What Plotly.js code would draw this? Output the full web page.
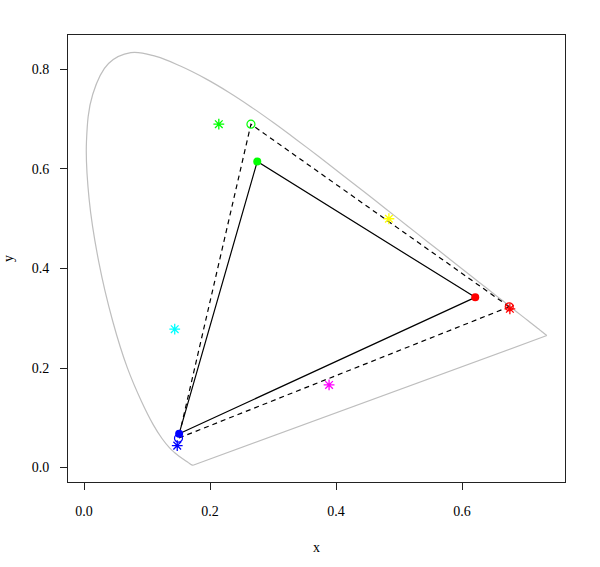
<!DOCTYPE html>
<html><head><meta charset="utf-8">
<script src="https://cdn.plot.ly/plotly-3.0.1.min.js"></script>
<style>html,body{margin:0;padding:0;background:#fff}#plot{width:600px;height:567px}</style>
</head><body><div id="plot"></div>
<script>
// CIE 1931 spectral locus (380-700 nm, 5 nm steps)
var locusX = [0.1741,0.1740,0.1738,0.1736,0.1733,0.1730,0.1726,0.1721,0.1714,0.1703,0.1689,0.1669,0.1644,0.1611,0.1566,0.1510,0.1440,0.1355,0.1241,0.1096,0.0913,0.0687,0.0454,0.0235,0.0082,0.0039,0.0139,0.0389,0.0743,0.1142,0.1547,0.1929,0.2296,0.2658,0.3016,0.3373,0.3731,0.4087,0.4441,0.4788,0.5125,0.5448,0.5752,0.6029,0.6270,0.6482,0.6658,0.6801,0.6915,0.7006,0.7079,0.7140,0.7190,0.7230,0.7260,0.7283,0.7300,0.7311,0.7320,0.7327,0.7334,0.7340,0.7344,0.7346,0.7347];
var locusY = [0.0050,0.0050,0.0049,0.0049,0.0048,0.0048,0.0048,0.0048,0.0051,0.0058,0.0069,0.0086,0.0109,0.0138,0.0177,0.0227,0.0297,0.0399,0.0578,0.0868,0.1327,0.2007,0.2950,0.4127,0.5384,0.6548,0.7502,0.8120,0.8338,0.8262,0.8059,0.7816,0.7543,0.7243,0.6923,0.6589,0.6245,0.5896,0.5547,0.5202,0.4866,0.4544,0.4242,0.3965,0.3725,0.3514,0.3340,0.3197,0.3083,0.2993,0.2920,0.2859,0.2809,0.2770,0.2740,0.2717,0.2700,0.2689,0.2680,0.2673,0.2666,0.2660,0.2656,0.2654,0.2653];

// Solid triangle primaries (R, G, B)
var solidX = [0.621, 0.275, 0.151];
var solidY = [0.342, 0.615, 0.068];
// Dashed triangle primaries (R, G, B)
var dashX = [0.675, 0.265, 0.150];
var dashY = [0.323, 0.690, 0.059];
// Asterisk points
var starX = [0.676, 0.214, 0.148, 0.144, 0.389, 0.484];
var starY = [0.319, 0.690, 0.044, 0.278, 0.166, 0.500];
var rgbCols = ['#FF0000', '#00FF00', '#0000FF'];
var starCols = ['#FF0000', '#00FF00', '#0000FF', '#00FFFF', '#FF00FF', '#FFFF00'];

function closeArr(a){ return a.concat([a[0]]); }
var n = locusX.length;

var traces = [
  {x: locusX, y: locusY, mode: 'lines', line: {color: '#BEBEBE', width: 1.2, shape: 'spline', smoothing: 1.1}},
  {x: [locusX[n-1], locusX[0]], y: [locusY[n-1], locusY[0]], mode: 'lines', line: {color: '#BEBEBE', width: 1.2}},
  {x: closeArr(dashX), y: closeArr(dashY), mode: 'lines', line: {color: '#000', width: 1.2, dash: '5px,4px'}},
  {x: closeArr(solidX), y: closeArr(solidY), mode: 'lines', line: {color: '#000', width: 1.2}},
  {x: dashX, y: dashY, mode: 'markers', marker: {symbol: 'circle-open', size: 8, color: rgbCols, line: {width: 1.2, color: rgbCols}}},
  {x: solidX, y: solidY, mode: 'markers', marker: {symbol: 'circle', size: 8, color: rgbCols}},
  {x: starX, y: starY, mode: 'markers', marker: {symbol: 'asterisk-open', size: 9, color: starCols, line: {width: 1.3, color: starCols}}}
];

var fontFam = 'Liberation Serif';
var layout = {
  width: 600, height: 567,
  paper_bgcolor: '#fff', plot_bgcolor: '#fff',
  showlegend: false,
  margin: {l: 68, r: 35, t: 35, b: 85},
  font: {family: fontFam, size: 14, color: '#000'},
  xaxis: {
    range: [-0.0254, 0.7635], tickvals: [0, 0.2, 0.4, 0.6], ticktext: ['0.0','0.2','0.4','0.6'],
    showgrid: false, zeroline: false, showline: true, mirror: true, linecolor: '#222', linewidth: 1,
    ticks: 'outside', ticklen: 7, tickcolor: '#222', tickwidth: 1, ticklabelstandoff: 9,
    tickfont: {family: fontFam, size: 14, color: '#000'},
    title: {text: 'x', font: {family: fontFam, size: 14, color: '#000'}, standoff: 24}
  },
  yaxis: {
    range: [-0.0291, 0.8693], tickvals: [0, 0.2, 0.4, 0.6, 0.8], ticktext: ['0.0','0.2','0.4','0.6','0.8'],
    showgrid: false, zeroline: false, showline: true, mirror: true, linecolor: '#222', linewidth: 1,
    ticks: 'outside', ticklen: 7, tickcolor: '#222', tickwidth: 1, ticklabelstandoff: 8,
    tickfont: {family: fontFam, size: 14, color: '#000'},
    title: {text: 'y', font: {family: fontFam, size: 14, color: '#000'}, standoff: 14}
  }
};
Plotly.newPlot('plot', traces, layout, {staticPlot: true, displayModeBar: false});
</script></body></html>
